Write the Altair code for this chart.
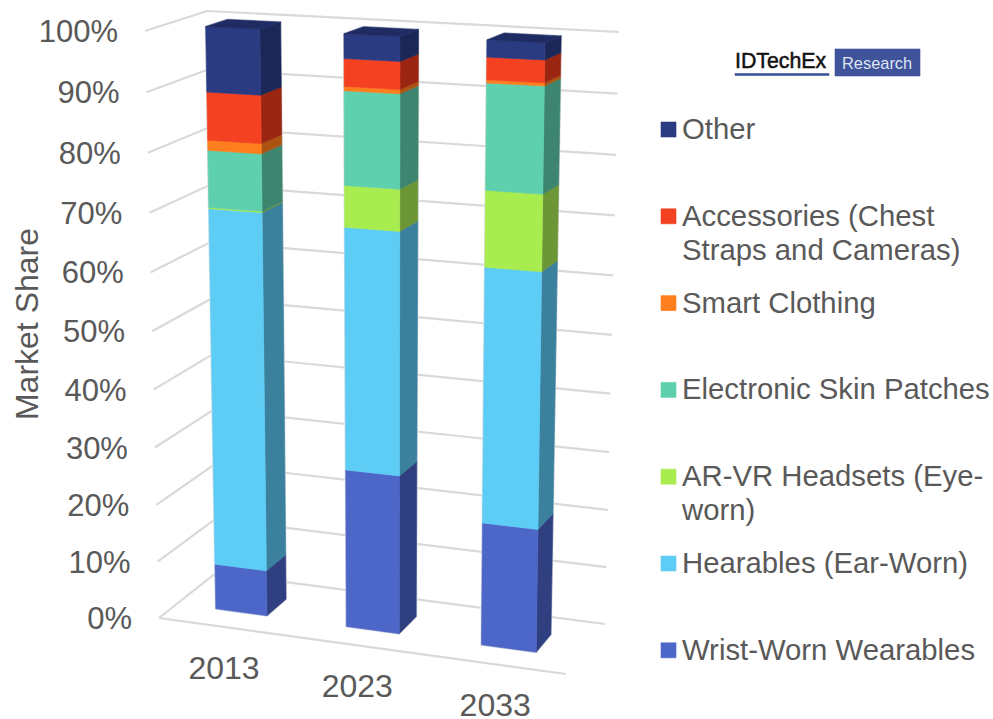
import altair as alt

# Stacked market share by year, in percent
years = ["2013", "2023", "2033"]
wrist_worn = [8.0, 27.3, 20.9]
hearables = [61.7, 41.0, 42.6]
ar_vr = [0.2, 6.9, 12.5]
skin_patches = [9.6, 15.5, 17.2]
smart_clothing = [1.7, 0.7, 0.5]
accessories = [8.0, 4.5, 3.6]
other = [10.8, 4.0, 2.7]

stack = [wrist_worn, hearables, ar_vr, skin_patches, smart_clothing, accessories, other]
front_colors = ["#4d67c8", "#5ecdf5", "#a8ec50", "#5fd0ae", "#ff7f1e", "#f44122", "#2a3b82"]
side_colors = ["#2f3f80", "#3b809d", "#6d9636", "#3e8570", "#ad5311", "#9a2612", "#1a2757"]
top_color = "#1f2c63"

ticks = [0, 10, 20, 30, 40, 50, 60, 70, 80, 90, 100]

legend_rows = [
    ("Other", ["Other"], 6),
    ("Accessories", ["Accessories (Chest", "Straps and Cameras)"], 5),
    ("Smart Clothing", ["Smart Clothing"], 4),
    ("Electronic Skin Patches", ["Electronic Skin Patches"], 3),
    ("AR-VR", ["AR-VR Headsets (Eye-", "worn)"], 2),
    ("Hearables", ["Hearables (Ear-Worn)"], 1),
    ("Wrist", ["Wrist-Worn Wearables"], 0),
]

# Camera: where the eight corners of the plot box land on the page
FLOOR = {"fl": (159, 618), "fr": (566, 674), "bl": (216, 573), "br": (605, 624)}
CEIL = {"fl": (145, 31), "fr": (576, 51), "bl": (207, 11), "br": (619, 32)}
K_HEIGHT = 0.955
K_WIDTH = 0.95
BAR_HALF = 0.066
BAR_FRONT, BAR_BACK = 0.32, 0.68


def warp(t, k):
    return t * k / (1 + t * (k - 1))


def bilinear(c, u, v):
    return tuple(
        (1 - v) * ((1 - u) * c["fl"][i] + u * c["fr"][i])
        + v * ((1 - u) * c["bl"][i] + u * c["br"][i])
        for i in (0, 1)
    )


def project(u, v, share):
    """Box coordinates (width 0-1, depth 0-1, share 0-100) to page position."""
    uw = warp(u, K_WIDTH)
    t = warp(share / 100, K_HEIGHT)
    lo, hi = bilinear(FLOOR, uw, v), bilinear(CEIL, uw, v)
    return [lo[0] + t * (hi[0] - lo[0]), lo[1] + t * (hi[1] - lo[1])]


def feature(kind, coords, color):
    geometry = {"type": kind, "coordinates": coords}
    return {"type": "Feature", "geometry": geometry, "properties": {"color": color}}


def polygon(points, color):
    return feature("Polygon", [points + [points[0]]], color)


PROJ = dict(type="identity", scale=1, translate=[0, 0])


def fills(features):
    return (
        alt.Chart(alt.Data(values=features))
        .mark_geoshape(strokeWidth=0.6)
        .encode(
            fill=alt.Color("properties.color:N", scale=None),
            stroke=alt.Color("properties.color:N", scale=None),
        )
        .project(**PROJ)
    )


def texts(rows, size, color, align="left", angle=0, baseline="middle", **kw):
    return (
        alt.Chart(alt.Data(values=rows))
        .mark_text(
            font="Liberation Sans", fontSize=size, color=color, align=align,
            baseline=baseline, angle=angle, **kw
        )
        .encode(longitude="x:Q", latitude="y:Q", text="label:N")
        .project(**PROJ)
    )


# Wall and floor lines
grid = []
for s in ticks:
    grid.append(feature("LineString", [project(0, 0, s), project(0, 1, s), project(1, 1, s)], "#d9d9d9"))
grid.append(feature("LineString", [project(0, 0, 0), project(1, 0, 0)], "#d9d9d9"))
grid_layer = (
    alt.Chart(alt.Data(values=grid))
    .mark_geoshape(filled=False, stroke="#d9d9d9", strokeWidth=2.2)
    .project(**PROJ)
)

# Bar faces, built segment by segment from the stacked shares
faces = []
halos = []
for b in range(len(years)):
    centre = (b + 0.5) / len(years)
    left, right = centre - BAR_HALF, centre + BAR_HALF
    base = 0.0
    for series, front_c, side_c in zip(stack, front_colors, side_colors):
        top = base + series[b]
        faces.append(polygon(
            [project(right, BAR_FRONT, base), project(right, BAR_BACK, base),
             project(right, BAR_BACK, top), project(right, BAR_FRONT, top)], side_c))
        faces.append(polygon(
            [project(left, BAR_FRONT, base), project(right, BAR_FRONT, base),
             project(right, BAR_FRONT, top), project(left, BAR_FRONT, top)], front_c))
        base = top
    faces.append(polygon(
        [project(left, BAR_FRONT, base), project(right, BAR_FRONT, base),
         project(right, BAR_BACK, base), project(left, BAR_BACK, base)], top_color))
    # Pale outline that peeks out around each column
    halos.append(polygon(
        [project(left, BAR_FRONT, 0), project(right, BAR_FRONT, 0), project(right, BAR_BACK, 0),
         project(right, BAR_BACK, base), project(left, BAR_BACK, base), project(left, BAR_FRONT, base)],
        "#dde0e6"))
bars_layer = fills(faces)
halo_layer = (
    alt.Chart(alt.Data(values=halos))
    .mark_geoshape(fill="#dde0e6", stroke="#dde0e6", strokeWidth=2)
    .project(**PROJ)
)

# Share axis labels sit just left of the front wall edge
tick_rows = []
for s in ticks:
    p = project(0, 0, s)
    tick_rows.append({"x": p[0] - 27, "y": p[1] + 2, "label": f"{s}%"})
tick_layer = texts(tick_rows, 31, "#595959", align="right")

# Year labels below the front floor edge
year_rows = []
for b, year in enumerate(years):
    p = project((b + 0.5) / len(years), 0, 0)
    year_rows.append({"x": p[0], "y": p[1] + 42, "label": year})
year_layer = texts(year_rows, 32, "#595959", align="center")

title_layer = texts([{"x": 28, "y": 324, "label": "Market Share"}], 32, "#595959",
                    align="center", angle=270)

# Legend column
ROW_STEP = 86.8
swatches, legend_text = [], []
for row, (_, lines, idx) in enumerate(legend_rows):
    cy = 129 + ROW_STEP * row
    swatches.append(polygon([[661, cy - 7], [676, cy - 7], [676, cy + 8], [661, cy + 8]],
                            front_colors[idx]))
    for n, line in enumerate(lines):
        legend_text.append({"x": 682, "y": cy + 1 + n * 34, "label": line})
swatch_layer = fills(swatches)
legend_layer = texts(legend_text, 29.3, "#595959")

# Brand mark
brand = [
    polygon([[835, 49], [920, 49], [920, 76], [835, 76]], "#3f539b"),
    polygon([[735, 73.5], [829, 73.5], [829, 75.5], [735, 75.5]], "#3f539b"),
]
brand_layer = fills(brand)
brand_name = texts([{"x": 735, "y": 62, "label": "IDTechEx"}], 21.3, "#111111",
                   stroke="#111111", strokeWidth=0.5)
brand_tag = texts([{"x": 842, "y": 63.5, "label": "Research"}], 16.4, "#dfe4f2")

chart = alt.layer(
    grid_layer, halo_layer, bars_layer, tick_layer, year_layer, title_layer,
    swatch_layer, legend_layer, brand_layer, brand_name, brand_tag,
).properties(
    width=993, height=719, padding=0, autosize=alt.AutoSizeParams(type="none"),
    background="white",
).configure_view(stroke=None)

chart.save("out.html", embed_options={"renderer": "svg", "actions": False})
